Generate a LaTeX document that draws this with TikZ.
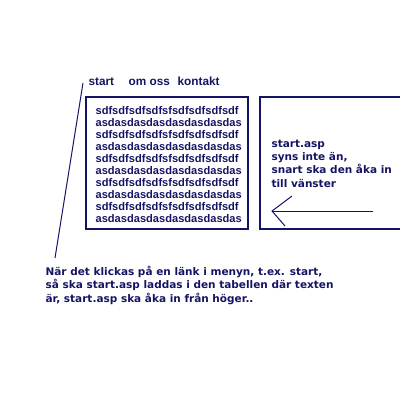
\documentclass[tikz,border=0pt]{standalone}
\usepackage{fontspec}
\setmainfont{Liberation Sans}
\newfontfamily\bredfont{DejaVu Sans}
\definecolor{marin}{RGB}{20,20,100}

\begin{document}
\begin{tikzpicture}
[x=1pt,y=-1pt,line width=1.2pt,color=marin,
 meny/.style={anchor=base west,inner sep=0pt,font=\bfseries\fontsize{11.8}{12}\selectfont},
 fyll/.style={anchor=base west,inner sep=0pt,font=\bfseries\fontsize{11.1}{12}\selectfont},
 notis/.style={anchor=base west,inner sep=0pt,align=left,
   font=\bredfont\bfseries\fontsize{10.5}{13.3}\selectfont}]

  \useasboundingbox (0,0) rectangle (400,400);

  % menyn
  \node[meny] (start) at (88,85) {start};
  \node[meny] (omoss) at (128,85) {om oss};
  \node[meny] (kontakt) at (177,85) {kontakt};

  % tabellen med texten
  \node[draw,minimum width=162,minimum height=132,inner sep=0pt] (tabell) at (167,163) {};
  \foreach \i in {0,2,4,6,8}
    \node[fyll] (rad\i) at (95,114+12*\i) {sdfsdfsdfsdfsfsdfsdfsdfsdf};
  \foreach \i in {1,3,5,7,9}
    \node[fyll] (rad\i) at (95,114+12*\i) {asdasdasdasdasdasdasdas};

  % start.asp utanfor
  \coordinate (ho1) at (401,97);
  \coordinate (ho2) at (401,229);
  \draw (ho1) -- (260,97) -- (260,229) -- (ho2);
  \node[notis] (asp) at (271,187) {start.asp\\syns inte än,\\snart ska den åka in\\till vänster};

  % pilen
  \coordinate (spets) at (272,211);
  \coordinate (svans) at (373,211);
  \coordinate (hake1) at (292,196);
  \coordinate (hake2) at (285,226);
  \draw[line width=1pt] (svans) -- (spets);
  \draw[line width=1pt] (hake1) -- (spets) -- (hake2);

  % strecket fran menyn
  \coordinate (streck1) at (83,83);
  \coordinate (streck2) at (55,258);
  \draw[line width=1pt] (streck1) -- (streck2);

  \node[notis] (forklaring) at (45,302) {När det klickas på en länk i menyn, t.ex. start,\\så ska start.asp laddas i den tabellen där texten\\är, start.asp ska åka in från höger..};

\end{tikzpicture}
\end{document}
